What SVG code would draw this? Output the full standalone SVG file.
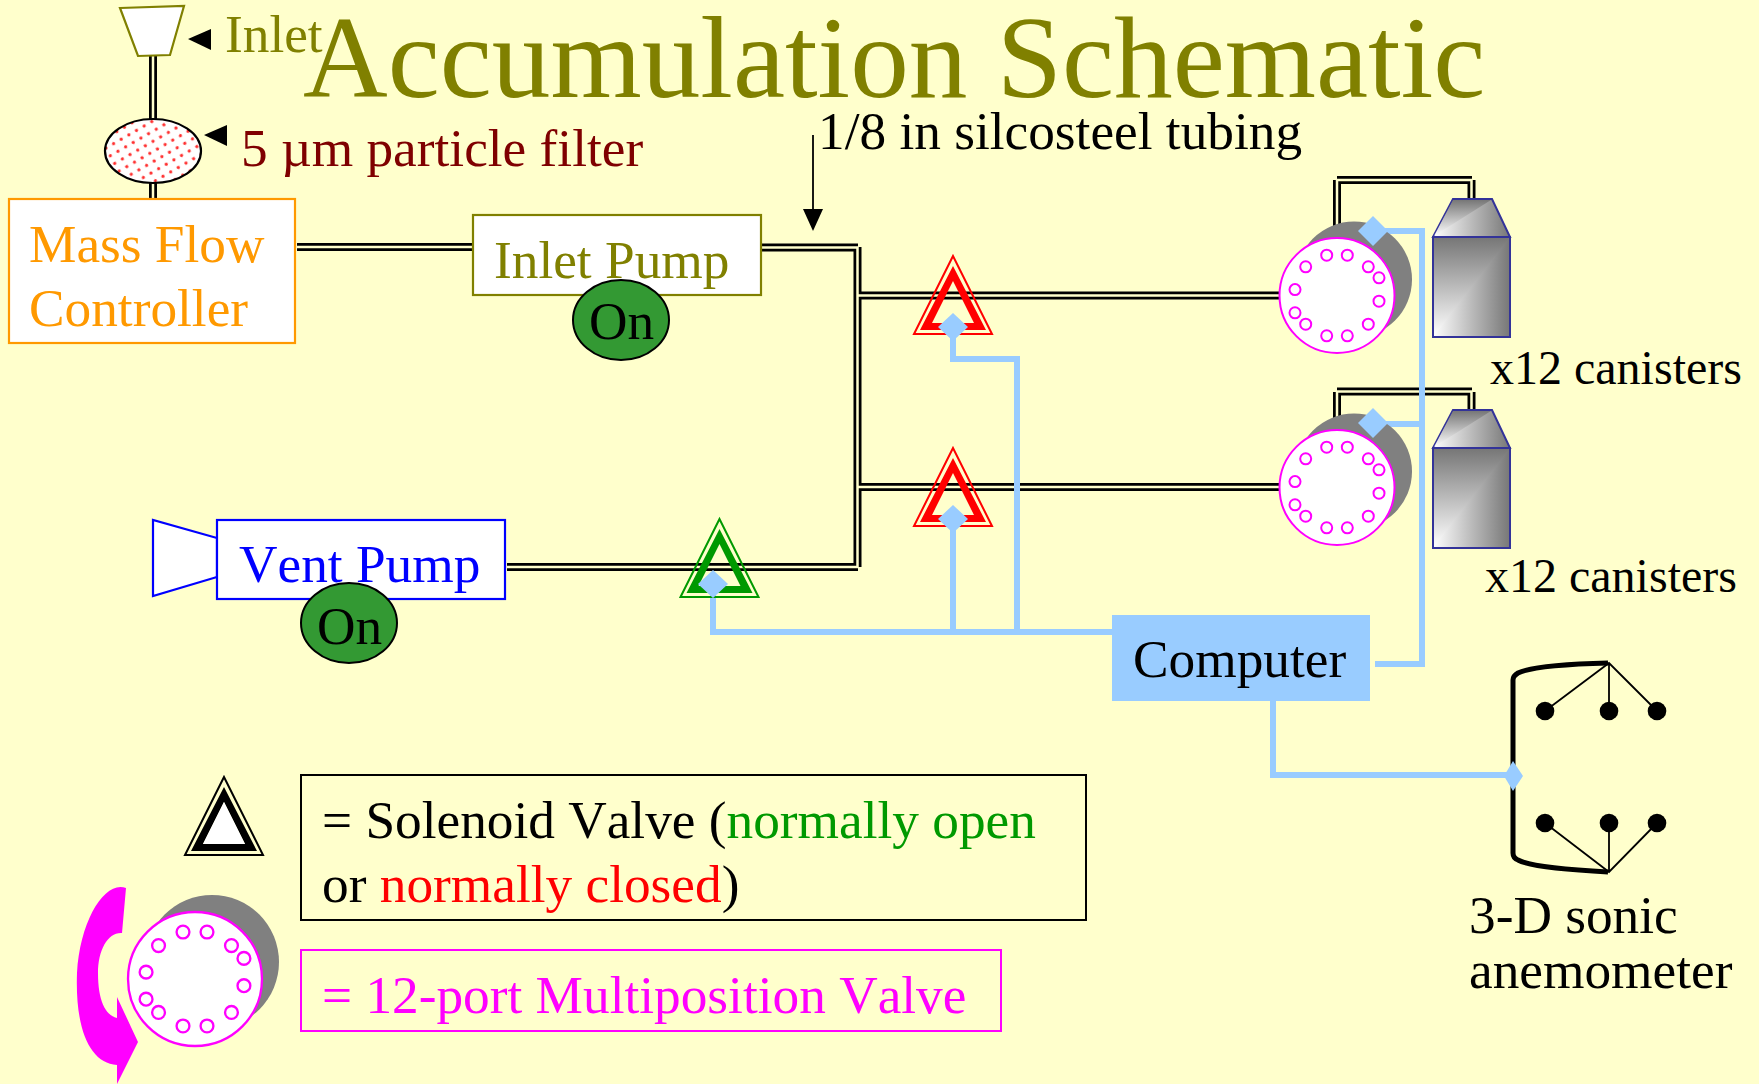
<svg xmlns="http://www.w3.org/2000/svg" xmlns:xlink="http://www.w3.org/1999/xlink" width="1759" height="1084" viewBox="0 0 1759 1084">
<style>
text{font-family:"Liberation Serif","Times New Roman",serif;font-size:53.300px;fill:#000;font-kerning:none}
.ol{fill:#808000}.or{fill:#ff9900}.bl{fill:#0000ff}.mg{fill:#ff00ff}.mr{fill:#7f0000}
.gr{fill:#009900}.rd{fill:#ff0000}
.box{fill:#fff;stroke-width:2.200}
.tb{fill:none;stroke:#000;stroke-width:8}
.tc{fill:none;stroke:#ffffcc;stroke-width:2.500}
.ctl{fill:none;stroke:#99ccff;stroke-width:6}
.dia{fill:#99ccff}
.on{fill:#339933;stroke:#000;stroke-width:2}
.thin{stroke:#000;stroke-width:1.800;fill:none}
.port{fill:none;stroke:#ff00ff;stroke-width:2}
.can{stroke:#333399;stroke-width:2}
</style>
<defs>
<pattern id="dots" width="12.500" height="12.500" patternUnits="userSpaceOnUse" patternTransform="rotate(15)">
<rect width="12.500" height="12.500" fill="#fff"/>
<circle cx="3.100" cy="3.100" r="1.600" fill="#ff3030"/><circle cx="9.400" cy="9.400" r="1.600" fill="#ff3030"/>
</pattern>
<linearGradient id="gh" x1="0" y1="0" x2="1" y2="0"><stop offset="0" stop-color="#fff"/><stop offset="1" stop-color="#777"/></linearGradient>
<linearGradient id="gv" x1="0" y1="1" x2="0" y2="0"><stop offset="0" stop-color="#fff"/><stop offset="1" stop-color="#777"/></linearGradient>
<g id="tubes">
<path d="M153 55V200"/>
<path d="M297 247H473"/>
<path d="M762 247.500H858"/>
<path d="M857.500 247V567"/>
<path d="M858 295.500H1282"/>
<path d="M858 487H1282"/>
<path d="M507 567H858"/>
<path d="M1337 180V238"/>
<path d="M1337 180H1472"/>
<path d="M1471.500 180V199"/>
<path d="M1337 392V430"/>
<path d="M1337 391.500H1472"/>
<path d="M1471.500 392V410"/>
</g>
<g id="mpv-face">
<circle r="57.500" fill="#fff" stroke="#ff00ff" stroke-width="2"/>
<g class="port">
<circle cx="-10.300" cy="-40.300" r="5.500"/><circle cx="10.300" cy="-40.300" r="5.500"/>
<circle cx="-31.300" cy="-28.700" r="5.500"/><circle cx="31.300" cy="-28.700" r="5.500"/>
<circle cx="42" cy="-17.700" r="5.500"/><circle cx="-42" cy="-5.900" r="5.500"/>
<circle cx="42" cy="5.700" r="5.500"/><circle cx="-42" cy="17.300" r="5.500"/>
<circle cx="-31.300" cy="28.700" r="5.500"/><circle cx="31.300" cy="28.700" r="5.500"/>
<circle cx="-10.300" cy="40.300" r="5.500"/><circle cx="10.300" cy="40.300" r="5.500"/>
</g>
</g>
<g id="canister">
<polygon class="can" fill="url(#gh)" points="0,38 20,0 59,0 77,38"/>
<polygon fill="url(#gv)" points="1,37 20,1 58,1"/>
<rect class="can" fill="url(#gh)" x="0" y="38" width="77" height="100"/>
<polygon fill="url(#gv)" points="1,137 1,39 76,39"/>
<rect class="can" fill="none" x="0" y="38" width="77" height="100"/>
</g>
<g id="sol-ring">
<polygon fill="none" stroke-width="2" points="0,-78 -39,0 39,0"/>
</g>
<path id="sol-core" fill-rule="evenodd" d="M0-68L-33-4H33ZM0-53L-21-11H21Z"/>
</defs>

<rect width="1759" height="1084" fill="#ffffcc"/>

<g id="connectors">
<use xlink:href="#tubes" class="tb"/>
<use xlink:href="#tubes" class="tc"/>
<path class="ctl" d="M713 584V632H1112M953 519V632M953 327V359H1017V632M1373 231H1422V664H1375M1373 424H1422M1273 701V775H1513"/>
<path class="thin" d="M813 135V212"/>
<polygon points="813,231 803,209 823,209"/>
<polygon points="188,39 211,29 211,50"/>
<polygon points="204,135 227,125 227,146"/>
</g>

<g id="title"><text class="ol" x="303" y="97" style="font-size:117.300px">Accumulation Schematic</text></g>

<g id="inlet">
<polygon fill="#fff" stroke="#808000" stroke-width="2.200" points="120,8 184,6 170,55 138,56"/>
<text class="ol" x="225" y="52">Inlet</text>
</g>
<g id="filter">
<ellipse cx="153" cy="151" rx="48" ry="32" fill="url(#dots)" stroke="#000" stroke-width="2.200"/>
<text class="mr" x="241" y="166">5 µm particle filter</text>
</g>
<g id="mass-flow">
<rect class="box" stroke="#ff9900" x="9" y="199" width="286" height="144"/>
<text class="or" x="29" y="262">Mass Flow</text>
<text class="or" x="29" y="326">Controller</text>
</g>
<g id="inlet-pump">
<rect class="box" stroke="#808000" x="473" y="215" width="288" height="80"/>
<text class="ol" x="494" y="278">Inlet Pump</text>
<ellipse class="on" cx="621" cy="320" rx="48" ry="40"/>
<text x="589" y="339">On</text>
</g>
<g id="vent-pump">
<polygon fill="#fff" stroke="#0000ff" stroke-width="2.200" points="153,520 153,596 217,577 217,538"/>
<rect class="box" stroke="#0000ff" x="217" y="520" width="288" height="79"/>
<text class="bl" x="239" y="582">Vent Pump</text>
<ellipse class="on" cx="349" cy="623" rx="48" ry="40"/>
<text x="317" y="644">On</text>
</g>
<g id="tubing-label"><text x="818" y="149">1/8 in silcosteel tubing</text></g>

<g id="valve-red-1" transform="translate(953,334)" stroke="#ff0000" fill="#ff0000">
<use xlink:href="#sol-ring"/><use xlink:href="#sol-core" stroke="none"/>
<polygon class="dia" stroke="none" points="0,-21 15,-7 0,7 -15,-7"/>
</g>
<g id="valve-red-2" transform="translate(953,526)" stroke="#ff0000" fill="#ff0000">
<use xlink:href="#sol-ring"/><use xlink:href="#sol-core" stroke="none"/>
<polygon class="dia" stroke="none" points="0,-21 15,-7 0,7 -15,-7"/>
</g>
<g id="valve-green" transform="translate(719.500,597)" stroke="#009900" fill="#009900">
<use xlink:href="#sol-ring"/><use xlink:href="#sol-core" stroke="none"/>
<polygon class="dia" stroke="none" points="-6.500,-27 8.500,-13 -6.500,1 -21.500,-13"/>
</g>

<g id="multiposition-1"><circle cx="1354" cy="279.500" r="58" fill="#808080"/><use xlink:href="#mpv-face" transform="translate(1337,295.500)"/>
<polygon class="dia" points="1373,216 1388,231 1373,246 1358,231"/></g>
<g id="multiposition-2"><circle cx="1354" cy="471.500" r="58" fill="#808080"/><use xlink:href="#mpv-face" transform="translate(1337,487.500)"/>
<polygon class="dia" points="1373,408 1388,423 1373,438 1358,423"/></g>
<g id="canister-1"><use xlink:href="#canister" transform="translate(1433,199)"/><text x="1490" y="384" style="font-size:48px">x12 canisters</text></g>
<g id="canister-2"><use xlink:href="#canister" transform="translate(1433,410)"/><text x="1485" y="592" style="font-size:48px">x12 canisters</text></g>

<g id="computer">
<rect x="1112" y="615" width="258" height="86" fill="#99ccff"/>
<text x="1133" y="677">Computer</text>
</g>

<g id="anemometer">
<path d="M1608 663C1570 664 1530 667 1518 673Q1513 676 1513 680V853Q1513 858 1518 860C1530 867 1570 870 1608 872" fill="none" stroke="#000" stroke-width="5"/>
<path class="thin" d="M1545 711L1609 663L1657 711M1609 663V711M1545 823L1609 872L1657 823M1609 872V823"/>
<circle cx="1545" cy="711" r="9.300"/><circle cx="1609" cy="711" r="9.300"/><circle cx="1657" cy="711" r="9.300"/>
<circle cx="1545" cy="823" r="9.300"/><circle cx="1609" cy="823" r="9.300"/><circle cx="1657" cy="823" r="9.300"/>
<polygon class="dia" points="1513,761 1523,776 1513,791 1504,776"/>
<text x="1469" y="933">3-D sonic</text>
<text x="1469" y="988">anemometer</text>
</g>

<g id="legend-solenoid">
<g transform="translate(224,855)" stroke="#000" fill="#000">
<use xlink:href="#sol-ring"/><use xlink:href="#sol-core" stroke="none"/>
<polygon fill="#fff" stroke="none" points="0,-53 -21,-11 21,-11"/>
</g>
<rect x="301" y="775" width="785" height="145" fill="none" stroke="#000" stroke-width="2"/>
<text x="322" y="838">= Solenoid Valve (<tspan class="gr">normally open</tspan></text>
<text x="322" y="902">or <tspan class="rd">normally closed</tspan>)</text>
</g>
<g id="legend-multiposition">
<path fill="#ff00ff" d="M126 888C105 880 80 920 77 973C75 1030 90 1063 117 1065V1084L138 1042L117 997V1018C105 1015 98 1000 98 973C98 950 108 932 122 933Z"/>
<circle cx="212" cy="962" r="67" fill="#808080"/>
<use xlink:href="#mpv-face" transform="translate(195,979) scale(1.165)"/>
<rect x="301" y="950" width="700" height="81" fill="none" stroke="#ff00ff" stroke-width="2"/>
<text class="mg" x="322" y="1013">= 12-port Multiposition Valve</text>
</g>
</svg>
